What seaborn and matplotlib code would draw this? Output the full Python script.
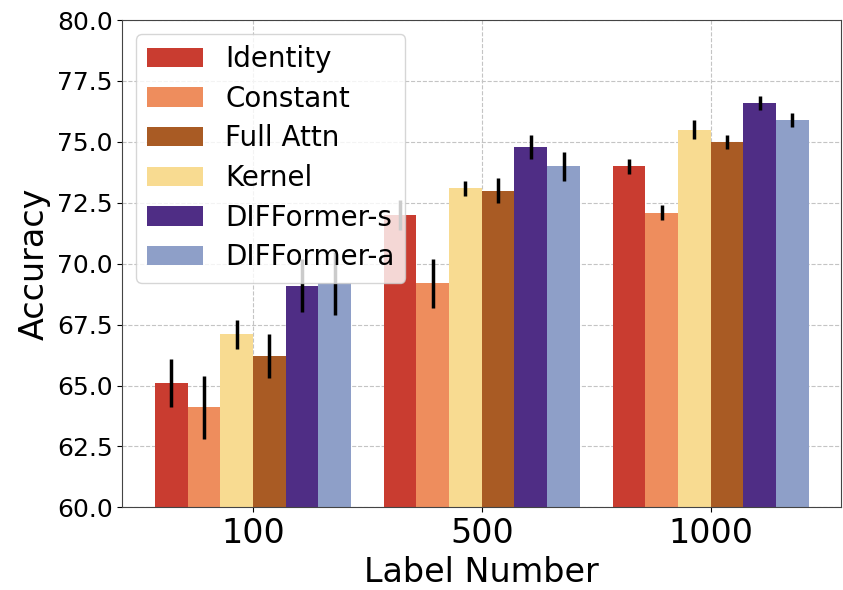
import seaborn as sns
import matplotlib.pyplot as plt
import pandas as pd

# values
label_numbers = ["100", "500", "1000"]
methods = ["Identity", "Constant", "Kernel", "Full Attn", "DIFFormer-s", "DIFFormer-a"]
legend_order = ["Identity", "Constant", "Full Attn", "Kernel", "DIFFormer-s", "DIFFormer-a"]

acc_mean = {
    "Identity":    [65.1, 72.0, 74.0],
    "Constant":    [64.1, 69.2, 72.1],
    "Kernel":      [67.1, 73.1, 75.5],
    "Full Attn":   [66.2, 73.0, 75.0],
    "DIFFormer-s": [69.1, 74.8, 76.6],
    "DIFFormer-a": [69.2, 74.0, 75.9],
}
acc_std = {
    "Identity":    [1.0, 0.6, 0.3],
    "Constant":    [1.3, 1.0, 0.3],
    "Kernel":      [0.6, 0.3, 0.4],
    "Full Attn":   [0.9, 0.5, 0.3],
    "DIFFormer-s": [1.1, 0.5, 0.3],
    "DIFFormer-a": [1.3, 0.6, 0.3],
}
colors = {
    "Identity": "#c93c30",
    "Constant": "#ee8d5d",
    "Kernel": "#f8db91",
    "Full Attn": "#a95b24",
    "DIFFormer-s": "#4f2d85",
    "DIFFormer-a": "#8e9fc8",
}

rows = []
for m in methods:
    for i, n in enumerate(label_numbers):
        rows.append({"Label Number": n, "Method": m,
                     "Accuracy": acc_mean[m][i], "std": acc_std[m][i]})
df = pd.DataFrame(rows)

sns.set_style("ticks")
plt.rcParams["font.family"] = ["DejaVu Sans"]
plt.rcParams.update({"text.color": "black", "axes.labelcolor": "black",
                     "xtick.color": "black", "ytick.color": "black"})

fig, ax = plt.subplots(figsize=(8.43, 5.9), dpi=100)
fig.subplots_adjust(left=0.145, right=0.998, bottom=0.14, top=0.966)

sns.barplot(data=df, x="Label Number", y="Accuracy", hue="Method",
            order=label_numbers, hue_order=methods, palette=colors,
            width=6 / 7, errorbar=None, saturation=1, linewidth=0, ax=ax)

# error bars at the centre of each bar
for m, cont in zip(methods, ax.containers):
    for i, bar in enumerate(cont):
        ax.errorbar(bar.get_x() + bar.get_width() / 2, bar.get_height(),
                    yerr=acc_std[m][i], fmt="none", ecolor="black",
                    elinewidth=2.5, capsize=0, zorder=3)

ax.set_ylim(60, 80)
ax.set_xlim(-0.571, 2.571)
ax.set_yticks([60, 62.5, 65, 67.5, 70, 72.5, 75, 77.5, 80])
ax.set_yticklabels([f"{v:.1f}" for v in ax.get_yticks()])
ax.tick_params(axis="y", labelsize=18)
ax.tick_params(axis="x", labelsize=24)
ax.set_xlabel("Label Number", fontsize=24)
ax.set_ylabel("Accuracy", fontsize=24)

ax.set_axisbelow(True)
ax.grid(True, linestyle="--", color="#c4c4c4", linewidth=0.8)
for s in ax.spines.values():
    s.set_visible(True)
    s.set_color("#444444")

handles, labels = ax.get_legend_handles_labels()
lookup = dict(zip(labels, handles))
ax.legend([lookup[l] for l in legend_order], legend_order,
          loc="upper left", fontsize=20, frameon=True, framealpha=0.8,
          labelspacing=0.42)

plt.savefig("out.png", dpi=100)
